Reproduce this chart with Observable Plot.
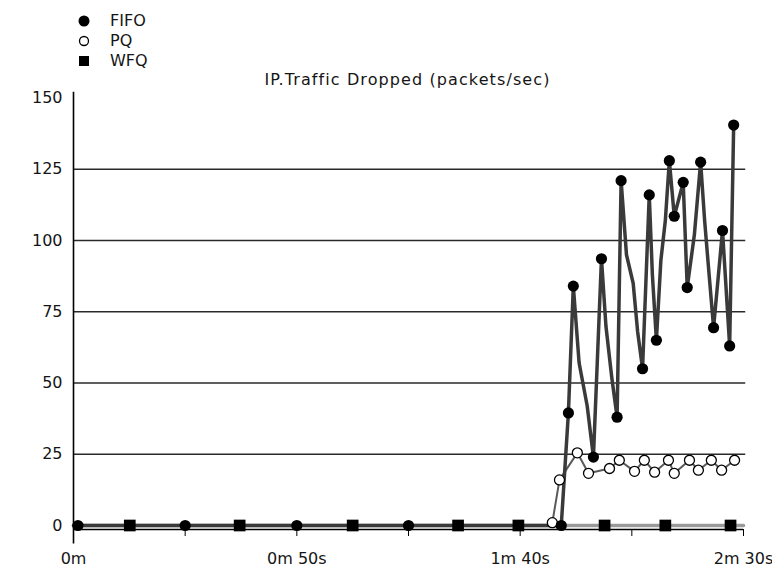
<!DOCTYPE html>
<html>
<head>
<meta charset="utf-8">
<script src="https://cdn.jsdelivr.net/npm/d3@7"></script>
<script src="https://cdn.jsdelivr.net/npm/@observablehq/plot@0.6"></script>
<style>
  html, body { margin: 0; padding: 0; background: #fff; }
  #wrap { position: relative; width: 772px; height: 569px; font-family: "DejaVu Sans", sans-serif; color: #151515; }
  #chart { position: absolute; left: 0; top: 0; }
  .legend { position: absolute; left: 76px; top: 11px; font-size: 16px; line-height: 20px; }
  .legend div { display: flex; align-items: center; height: 20px; }
  .legend svg { width: 16px; height: 16px; margin-right: 18px; }
  .title { position: absolute; left: 0; width: 815px; top: 70px; text-align: center; font-size: 16px; letter-spacing: 1.1px; }
</style>
</head>
<body>
<div id="wrap">
  <div id="chart"></div>
  <div class="legend">
    <div><svg viewBox="0 0 16 16"><circle cx="8" cy="8" r="5.5" fill="#000"/></svg>FIFO</div>
    <div><svg viewBox="0 0 16 16"><circle cx="8" cy="8" r="4.5" fill="#fff" stroke="#000" stroke-width="1.3"/></svg>PQ</div>
    <div><svg viewBox="0 0 16 16"><rect x="3" y="3" width="10" height="10" fill="#000"/></svg>WFQ</div>
  </div>
  <div class="title">IP.Traffic Dropped (packets/sec)</div>
</div>
<script>
// Series data: time in seconds, value in packets/sec
const seriesNames = ["FIFO", "PQ", "WFQ"];

const fifoT = [0, 109.2, 110.8, 111.9, 113.2, 115, 116.4, 118.2, 119.2, 120.5, 121.7, 122.6, 123.8, 125.3, 126.3, 127.4, 128.9, 129.6, 130.5, 131.5, 132.5, 133.4, 134.5, 136.5, 137.4, 139, 140.4, 141.3, 142.3, 143.3, 145.3, 146.9, 147.8];
const fifoV = [0, 0, 39.5, 84, 57, 42, 24, 93.6, 70, 52, 38, 121, 95, 85, 68, 55, 116, 88, 65, 93, 107, 128, 108.5, 120.4, 83.5, 102, 127.5, 107, 88, 69.4, 103.5, 63, 140.5];
const fifoMarkT = [1, 25, 50, 75, 109.2, 110.8, 111.9, 116.4, 118.2, 121.7, 122.6, 127.4, 128.9, 130.5, 133.4, 134.5, 136.5, 137.4, 140.4, 143.3, 145.3, 146.9, 147.8];
const fifoMarkV = [0, 0, 0, 0, 0, 39.5, 84, 24, 93.6, 38, 121, 55, 116, 65, 128, 108.5, 120.4, 83.5, 127.5, 69.4, 103.5, 63, 140.5];

const pqT = [0, 106.2, 107.2, 108.8, 112.8, 115.3, 120, 122.2, 125.6, 127.8, 130.1, 133.2, 134.5, 137.9, 139.9, 142.8, 145.1, 148];
const pqV = [0, 0, 1, 16, 25.5, 18.3, 20, 22.9, 19, 22.9, 18.7, 22.9, 18.3, 22.9, 19.4, 22.9, 19.4, 22.9];
const pqMarkT = [107.2, 108.8, 112.8, 115.3, 120, 122.2, 125.6, 127.8, 130.1, 133.2, 134.5, 137.9, 139.9, 142.8, 145.1, 148];
const pqMarkV = [1, 16, 25.5, 18.3, 20, 22.9, 19, 22.9, 18.7, 22.9, 18.3, 22.9, 19.4, 22.9, 19.4, 22.9];

const wfqT = [0, 150];
const wfqV = [0, 0];
const wfqMarkT = [12.6, 37.2, 62.5, 86.1, 99.6, 118.9, 132.5, 147.1];
const wfqMarkV = [0, 0, 0, 0, 0, 0, 0, 0];

const yTicks = [0, 25, 50, 75, 100, 125, 150];
const gridY = [25, 50, 75, 100, 125];
const xTicks = [0, 25, 50, 75, 100, 125, 150];
const xTickLabels = {0: "0m", 50: "0m 50s", 100: "1m 40s", 150: "2m 30s"};

const pts = (T, V) => T.map((t, i) => ({t, v: V[i]}));
const fifo = pts(fifoT, fifoV), fifoM = pts(fifoMarkT, fifoMarkV);
const pq = pts(pqT, pqV), pqM = pts(pqMarkT, pqMarkV);
const wfq = pts(wfqT, wfqV), wfqM = pts(wfqMarkT, wfqMarkV);

const chart = Plot.plot({
  width: 772,
  height: 569,
  marginLeft: 73,
  marginRight: 29,
  marginTop: 97.5,
  marginBottom: 44,
  x: {domain: [0, 150]},
  y: {domain: [0, 150]},
  style: {fontFamily: "DejaVu Sans, sans-serif", fontSize: "16px", color: "#151515", background: "transparent", overflow: "visible"},
  marks: [
    Plot.ruleY(gridY, {x1: 0, x2: 150.5, stroke: "#2a2a2a", strokeWidth: 1.3}),
    Plot.ruleY([0], {x1: 0, x2: 150, dy: 4, stroke: "#000", strokeWidth: 1.3}),
    Plot.ruleX([0], {y1: -6.5, y2: 152, stroke: "#000", strokeWidth: 1.6}),
    Plot.axisY(yTicks, {tickSize: 0, tickPadding: 11, label: null}),
    Plot.axisX(xTicks, {tickSize: 7, dy: 4, tickPadding: 16, label: null, tickFormat: d => xTickLabels[d] ?? "", stroke: "#000"}),
    Plot.line(wfq, {x: "t", y: "v", stroke: "#9a9a9a", strokeWidth: 3.5}),
    Plot.line(pq, {x: "t", y: "v", stroke: "#5a5a5a", strokeWidth: 2}),
    Plot.line(fifo, {x: "t", y: "v", stroke: "#3a3a3a", strokeWidth: 3.5, curve: "linear"}),
    Plot.dot(wfqM, {x: "t", y: "v", symbol: "square", r: 6.6, fill: "#000"}),
    Plot.dot(pqM, {x: "t", y: "v", r: 5, fill: "#fff", stroke: "#000", strokeWidth: 1.3}),
    Plot.dot(fifoM, {x: "t", y: "v", r: 5.6, fill: "#000"})
  ]
});
document.getElementById("chart").appendChild(chart);
</script>
</body>
</html>
